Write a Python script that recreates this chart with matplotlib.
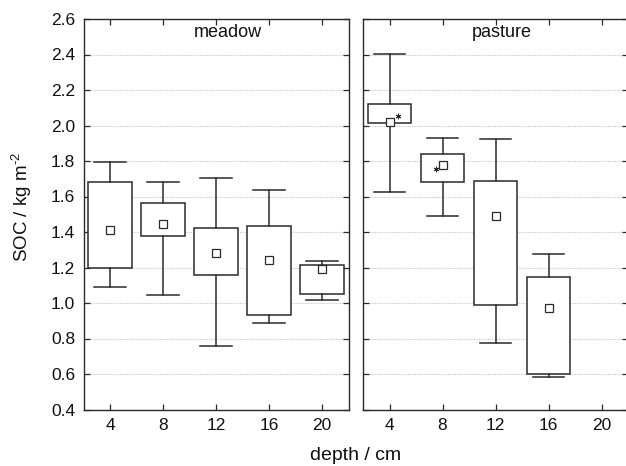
import matplotlib
matplotlib.use("Agg")
import matplotlib.pyplot as plt
import numpy as np

plt.rcParams['font.family'] = ['Liberation Sans', 'DejaVu Sans']
plt.rcParams['mathtext.fontset'] = 'custom'
plt.rcParams['mathtext.rm'] = 'Liberation Sans'
plt.rcParams['mathtext.default'] = 'regular'

# ---- data ----
meadow_depth = [4, 8, 12, 16, 20]
meadow_mean = [1.41, 1.445, 1.28, 1.24, 1.19]
meadow_box_low = [1.20, 1.375, 1.155, 0.93, 1.05]
meadow_box_high = [1.68, 1.565, 1.42, 1.435, 1.215]
meadow_min = [1.09, 1.045, 0.757, 0.89, 1.016]
meadow_max = [1.793, 1.684, 1.706, 1.637, 1.235]

pasture_depth = [4, 8, 12, 16]
pasture_mean = [2.022, 1.778, 1.492, 0.972]
pasture_box_low = [2.014, 1.684, 0.986, 0.601]
pasture_box_high = [2.123, 1.840, 1.690, 1.149]
pasture_min = [1.626, 1.492, 0.773, 0.582]
pasture_max = [2.403, 1.930, 1.924, 1.277]

# significance asterisks (x, y) in data units
pasture_star_x = [4.65, 7.5]
pasture_star_y = [2.056, 1.755]

x_ticks = [4, 8, 12, 16, 20]
y_ticks = [0.4, 0.6, 0.8, 1.0, 1.2, 1.4, 1.6, 1.8, 2.0, 2.2, 2.4, 2.6]
panel_titles = ['meadow', 'pasture']

W, H = 626, 466
fig = plt.figure(figsize=(W / 100, H / 100), dpi=100)
fig.patch.set_facecolor('white')

ax_bottom = (H - 409.5) / H
ax_height = 390.5 / H
ax1 = fig.add_axes([83.5 / W, ax_bottom, 265 / W, ax_height])
ax2 = fig.add_axes([363 / W, ax_bottom, 265 / W, ax_height])

line_col = '#2a2a2a'


def draw_panel(ax, depth, mean, lo, hi, mn, mx, title, title_x):
    stats = []
    for d, m, a, b, c, e in zip(depth, mean, lo, hi, mn, mx):
        stats.append(dict(med=m, q1=a, q3=b, whislo=c, whishi=e,
                          mean=m, fliers=[]))
    ax.bxp(stats, positions=depth, widths=3.25, capwidths=2.35,
           showmeans=True, patch_artist=True, manage_ticks=False,
           boxprops=dict(facecolor='white', edgecolor=line_col, linewidth=1.1),
           whiskerprops=dict(color=line_col, linewidth=1.1),
           capprops=dict(color=line_col, linewidth=1.1),
           medianprops=dict(linewidth=0),
           meanprops=dict(marker='s', markerfacecolor='white',
                          markeredgecolor=line_col, markersize=5.5,
                          markeredgewidth=0.9),
           zorder=3)
    ax.set_xlim(2, 22)
    ax.set_ylim(0.4, 2.6)
    ax.set_xticks(x_ticks)
    ax.set_yticks(y_ticks)
    ax.yaxis.grid(True, linestyle=(0, (1, 1)), color='#c8c8c8', linewidth=0.8)
    ax.set_axisbelow(True)
    ax.tick_params(direction='in', top=True, right=True, length=4,
                   width=0.9, color=line_col, labelsize=12.5, pad=6,
                   labelcolor='#111111')
    for s in ax.spines.values():
        s.set_color(line_col)
        s.set_linewidth(1.0)
    ax.text(title_x, 2.5, title, ha='center', va='baseline',
            fontsize=13, color='#111111')


draw_panel(ax1, meadow_depth, meadow_mean, meadow_box_low, meadow_box_high,
           meadow_min, meadow_max, panel_titles[0], 12.9)
draw_panel(ax2, pasture_depth, pasture_mean, pasture_box_low, pasture_box_high,
           pasture_min, pasture_max, panel_titles[1], 12.5)
ax2.set_yticklabels([])
ax1.set_yticklabels([f'{v:.1f}' for v in y_ticks])

ax2.plot(pasture_star_x, pasture_star_y, linestyle='none', marker=(6, 2, 0),
         markersize=4, color=line_col, markeredgewidth=0.7, zorder=5)

fig.text(22 / W, 1 - 207 / H, 'SOC / kg m$^{\\text{-}2}$', rotation=90,
         ha='center', va='center', fontsize=13.5, color='#111111')
fig.text(356 / W, 6 / H, 'depth / cm', ha='center', va='baseline',
         fontsize=14, color='#111111')

fig.savefig('out.png', dpi=100, facecolor='white')
